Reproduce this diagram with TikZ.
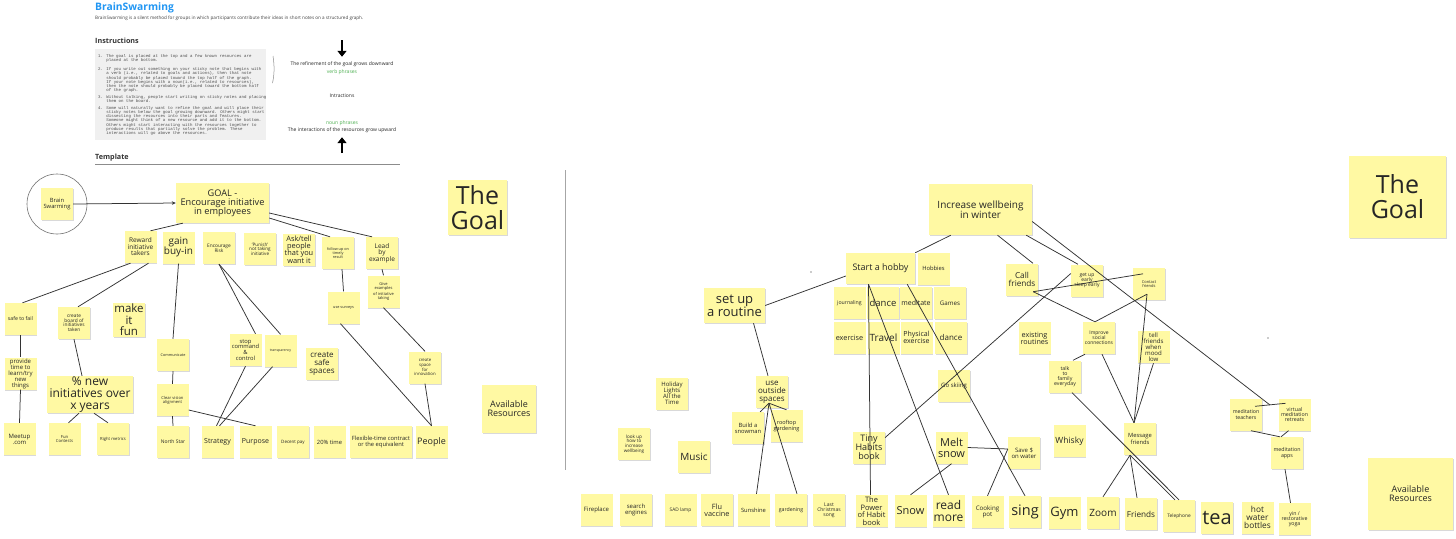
\documentclass[tikz,border=0pt]{standalone}
\usepackage{fontspec}
\setmainfont{Open Sans}
\newfontfamily\instrfont{Liberation Mono}
\usetikzlibrary{arrows.meta,shadows}
\definecolor{stickyfill}{HTML}{FFF9A3}
\definecolor{swarmblue}{HTML}{2196F3}
\definecolor{phrasegreen}{HTML}{4CAF50}
\newcommand\instrindent{\phantom{1. }}

\begin{document}
\begin{tikzpicture}[x=1pt, y=-1pt,
  sticky/.style={fill=stickyfill, minimum width=32pt, minimum height=32pt, inner sep=0.5pt, align=center, text=black!85,
    drop shadow={shadow xshift=0.8pt, shadow yshift=-1pt, fill=black, opacity=0.15}},
  fs/.style={font=\fontsize{#1}{#1}\selectfont},
  link/.style={line width=0.75pt, black!80},
  bigarrow/.style={line width=2pt, -{Triangle[width=9pt,length=6pt]}},
  hint/.style={fs=5, inner sep=0.5pt, text=black!85},
]

\fill[white] (0,0) rectangle (1456,538);
\useasboundingbox (0,0) rectangle (1456,538);

\node[anchor=west, inner sep=0, text=swarmblue, font=\fontsize{10.3}{10.3}\selectfont\bfseries] (title) at (95,8) {BrainSwarming};
\node[anchor=west, inner sep=0, fs=4.6, text=black!75] (subtitle) at (95,18) {BrainSwarming is a silent method for groups in which participants contribute their ideas in short notes on a structured graph.};
\node[anchor=west, inner sep=0, font=\fontsize{7.2}{7.2}\selectfont\bfseries, text=black!80] (instrhead) at (95,41) {Instructions};

\fill[black!6] (95,49) rectangle (266,140);
\node[anchor=north west, inner sep=0, align=left, text=black!70, font=\instrfont\fontsize{4.1}{4.1}\selectfont] (steps) at (98,54) {%
1. The goal is placed at the top and a few known resources are\\
\instrindent placed at the bottom.\\[5.5pt]
2. If you write out something on your sticky note that begins with\\
\instrindent a verb (i.e., related to goals and actions), then that note\\
\instrindent should probably be placed toward the top half of the graph.\\
\instrindent If your note begins with a noun(i.e., related to resources),\\
\instrindent then the note should probably be placed toward the bottom half\\
\instrindent of the graph.\\[3pt]
3. Without talking, people start writing on sticky notes and placing\\
\instrindent them on the board.\\[3pt]
4. Some will naturally want to refine the goal and will place their\\
\instrindent sticky notes below the goal growing downward. Others might start\\
\instrindent dissecting the resources into their parts and features.\\
\instrindent Someone might think of a new resource and add it to the bottom.\\
\instrindent Others might start interacting with the resources together to\\
\instrindent produce results that partially solve the problem. These\\
\instrindent interactions will go above the resources.};
\draw[black!45, line width=0.5pt] (273,56) .. controls (274.5,66) and (274.5,74) .. (272.5,83);

\node[hint] (refine) at (342,64) {The refinement of the goal grows downward};
\node[hint, text=phrasegreen] (verbs) at (342,72) {verb phrases};
\node[hint] (intract) at (342,96) {Intractions};
\node[hint, text=phrasegreen] (nouns) at (342,123) {noun phrases};
\node[hint] (interact) at (342,130) {The interactions of the resources grow upward};
\coordinate (downtop) at (342,40);
\coordinate (upbot) at (342,153);
\draw[bigarrow, shorten >=4pt] (downtop) -- (refine);
\draw[bigarrow, shorten >=4pt] (upbot) -- (interact);

\node[anchor=west, inner sep=0, font=\fontsize{7.2}{7.2}\selectfont\bfseries, text=black!80] (templhead) at (95,158) {Template};
\draw[black!45, line width=0.7pt] (95,164) -- (400,164);
\draw[black!35, line width=0.8pt] (565,170) -- (565,470);

% left board
\node[sticky, fs=5.8] (bsw) at (57,204) {Brain\\Swarming};
\draw[black!55, line width=0.6pt] (bsw.center) circle[radius=30pt];
\node[sticky, fs=9.2, minimum width=93pt, minimum height=40pt] (goal) at (222.5,203) {GOAL -\\Encourage initiative\\in employees};
\node[sticky, fs=6.5] (reward) at (140.5,247) {Reward\\initiative\\takers};
\node[sticky, fs=10] (buyin) at (178.5,247.5) {gain\\buy-in};
\node[sticky, fs=4.8] (risk) at (219,248) {Encourage\\Risk};
\node[sticky, fs=4.6] (punish) at (260,249) {'Punish'\\not taking\\initiative};
\node[sticky, fs=7.4] (asktell) at (299,249.5) {Ask/tell\\people\\that you\\want it};
\node[sticky, fs=3.8] (followup) at (338,253) {follow up on\\timely\\result};
\node[sticky, fs=6.5] (lead) at (382,253) {Lead\\by\\example};
\node[sticky, fs=4] (giveex) at (383.5,291.5) {Give\\examples\\of initiative\\taking};
\node[sticky, fs=3.8] (surveys) at (343.5,307.5) {use surveys};
\node[sticky, fs=5.2] (safefail) at (20.5,319) {safe to fail};
\node[sticky, fs=4.8] (board) at (74,323) {create\\board of\\initiatives\\taken};
\node[sticky, fs=11.5, minimum height=34pt] (makefun) at (129,320) {make\\it\\fun};
\node[sticky, fs=6] (learn) at (20.5,373.5) {provide\\time to\\learn/try\\new\\things};
\node[sticky, fs=12, minimum width=86pt, minimum height=37pt] (pnew) at (90,394.5) {\% new\\initiatives over\\x years};
\node[sticky, fs=6] (meetup) at (19.5,439) {Meetup\\.com};
\node[sticky, fs=4.2] (contests) at (64.5,439) {Fun\\Contests};
\node[sticky, fs=4.2] (metrics) at (113,439) {Right metrics};
\node[sticky, fs=3.8] (commun) at (173,355) {Communicate};
\node[sticky, fs=4.1] (vision) at (172.5,400) {Clear vision\\alignment};
\node[sticky, fs=5] (northstar) at (173,442) {North Star};
\node[sticky, fs=5.8] (stopcc) at (245.5,350) {stop\\command\\\&\\control};
\node[sticky, fs=3.5] (transp) at (280.5,350.5) {transparency};
\node[sticky, fs=8] (safesp) at (322,364) {create\\safe\\spaces};
\node[sticky, fs=4.3] (innov) at (425,367.5) {create\\space\\for\\innovation};
\node[sticky, fs=7] (strategy) at (217.5,442) {Strategy};
\node[sticky, fs=7] (purpose) at (255.5,442) {Purpose};
\node[sticky, fs=4.5] (pay) at (293,442) {Decent pay};
\node[sticky, fs=5.8] (time20) at (329.5,442) {20\% time};
\node[sticky, fs=5.8, minimum width=62pt] (flex) at (381,442) {Flexible-time contract\\or the equivalent};
\node[sticky, fs=9] (people) at (431.5,442) {People};
\node[sticky, fs=25, minimum width=59pt, minimum height=55pt] (goalL) at (477.5,207.5) {The\\Goal};
\node[sticky, fs=9, minimum width=54pt, minimum height=48pt] (resL) at (509,409) {Available\\Resources};

\draw[link, -{Stealth[length=4pt,width=3.5pt]}] (bsw.east) -- (goal.west);
\draw[link] ([xshift=7pt]goal.south west) -- ([xshift=10pt]reward.north);
\draw[link] ([yshift=-10pt]goal.east) -- ([xshift=-10pt]lead.north);
\draw[link] ([yshift=-15pt]goal.east) -- ([xshift=-8pt]followup.north);
\draw[link] ([xshift=-10pt]reward.south) -- ([xshift=2pt]safefail.north);
\draw[link] ([xshift=8pt]reward.south) -- ([xshift=4pt]board.north);
\draw[link] (buyin.south) -- (commun.north);
\draw[link] (risk.south) -- ([xshift=10pt]stopcc.north);
\draw[link] (risk.south) -- (transp.north);
\draw[link] ([xshift=4pt]followup.south) -- (surveys.north);
\draw[link] (lead.south) -- (giveex.north);
\draw[link] (giveex.south) -- (innov.north);
\draw[link] ([xshift=-3pt]surveys.south) -- (people.north);
\draw[link] (innov.south) -- (people.north);
\draw[link] (safefail.south) -- (learn.north);
\draw[link] (learn.south) -- (meetup.north);
\draw[link] (board.south) -- ([xshift=-8pt]pnew.north);
\draw[link] ([xshift=-11pt]pnew.south) -- ([xshift=4pt]contests.north);
\draw[link] ([xshift=4pt]pnew.south) -- ([xshift=-5pt]metrics.north);
\draw[link] (commun.south) -- (vision.north);
\draw[link] (vision.south) -- (northstar.north);
\draw[link] ([yshift=-10pt]vision.east) -- (purpose.north);
\draw[link] (stopcc.south) -- ([xshift=-1pt]strategy.north);
\draw[link] ([xshift=-8pt]transp.south) -- ([xshift=2pt]strategy.north);

% right board
\node[sticky, fs=13, minimum width=61pt, minimum height=35pt] (routine) at (734.5,305.5) {set up\\a routine};
\node[sticky, fs=9, minimum width=69pt, minimum height=31pt] (hobby) at (880.5,268.5) {Start a hobby};
\node[sticky, fs=5.8] (hobbies) at (933.5,268.5) {Hobbies};
\node[sticky, fs=5.2] (journal) at (849.5,303) {journaling};
\node[sticky, fs=9.5] (danceA) at (883,303) {dance};
\node[sticky, fs=7] (meditate) at (916,303) {meditate};
\node[sticky, fs=6.2] (games) at (950,303) {Games};
\node[sticky, fs=7.3] (exercise) at (849.5,337.5) {exercise};
\node[sticky, fs=10] (travel) at (883.5,337.5) {Travel};
\node[sticky, fs=7] (physical) at (916.5,337.5) {Physical\\exercise};
\node[sticky, fs=8] (danceB) at (951,337.5) {dance};
\node[sticky, fs=6] (skiing) at (954,386) {Go skiing};
\node[sticky, fs=9] (tinyhab) at (869,447.5) {Tiny\\Habits\\book};
\node[sticky, fs=11] (melt) at (951.5,447.5) {Melt\\snow};
\node[sticky, fs=7.5] (powerhab) at (871.5,511) {The\\Power\\of Habit\\book};
\node[sticky, fs=11] (snow) at (910.5,511) {Snow};
\node[sticky, fs=12] (readmore) at (948.5,511) {read\\more};
\node[sticky, fs=5] (xmas) at (829,510) {Last\\Christmas\\song};
\node[sticky, fs=5.2] (garden) at (791,510) {gardening};
\node[sticky, fs=5.8] (sunshine) at (753.5,510) {Sunshine};
\node[sticky, fs=7.3] (flu) at (717,510) {Flu\\vaccine};
\node[sticky, fs=4.8] (sadlamp) at (680.5,510) {SAD lamp};
\node[sticky, fs=6] (search) at (636,510) {search\\engines};
\node[sticky, fs=6] (fire) at (596.5,510) {Fireplace};
\node[sticky, fs=6] (lights) at (672,393.5) {Holiday\\Lights\\All the\\Time};
\node[sticky, fs=4.6] (lookup) at (634,444) {look up\\how to\\increase\\wellbeing};
\node[sticky, fs=10] (music) at (694,457) {Music};
\node[sticky, fs=8] (outside) at (772,392) {use\\outside\\spaces};
\node[sticky, fs=5.8] (snowman) at (748,428) {Build a\\snowman};
\node[sticky, fs=5.5] (rooftop) at (786.5,426) {rooftop\\gardening};
\node[sticky, fs=10, minimum width=103pt, minimum height=51pt] (winter) at (980.5,209.5) {Increase wellbeing\\in winter};
\node[sticky, fs=8.2] (callfr) at (1022,279.5) {Call\\friends};
\node[sticky, fs=5] (getup) at (1087,280.5) {get up\\early\\sleep early};
\node[sticky, fs=4] (contact) at (1149,284) {Contact\\friends};
\node[sticky, fs=7.2] (existing) at (1034.5,338) {existing\\routines};
\node[sticky, fs=5] (improve) at (1099,338) {Improve\\social\\connections};
\node[sticky, fs=6.1] (tellfr) at (1153.5,347) {tell\\friends\\when\\mood\\low};
\node[sticky, fs=5.2] (talkfam) at (1065,376.5) {talk\\to\\family\\everyday};
\node[sticky, fs=8.5] (whisky) at (1069.5,441) {Whisky};
\node[sticky, fs=5.8] (message) at (1140,439) {Message\\friends};
\node[sticky, fs=6] (savew) at (1024,453) {Save \$\\on water};
\node[sticky, fs=6.2] (cooking) at (987.5,512) {Cooking\\pot};
\node[sticky, fs=14.5] (sing) at (1025,512) {sing};
\node[sticky, fs=13] (gym) at (1064.5,513) {Gym};
\node[sticky, fs=10] (zoom) at (1103,513) {Zoom};
\node[sticky, fs=8.2] (friends) at (1141,514) {Friends};
\node[sticky, fs=4.8] (phone) at (1179,516) {Telephone};
\node[sticky, fs=20] (tea) at (1217,518) {tea};
\node[sticky, fs=8.3] (hotw) at (1257.5,517.5) {hot\\water\\bottles};
\node[sticky, fs=5.2] (yoga) at (1294.5,519) {yin /\\restorative\\yoga};
\node[sticky, fs=5.2] (medteach) at (1246,414.5) {meditation\\teachers};
\node[sticky, fs=5.3] (medretreat) at (1294.5,414.5) {virtual\\meditation\\retreats};
\node[sticky, fs=5.3] (medapps) at (1287,453) {meditation\\apps};
\node[sticky, fs=25, minimum width=97pt, minimum height=82pt] (goalR) at (1397.5,197) {The\\Goal};
\node[sticky, fs=9, minimum width=85pt, minimum height=72pt] (resR) at (1410.5,494) {Available\\Resources};

\fill[black!40] (811,272) circle[radius=0.8pt];
\fill[black!40] (1268,338) circle[radius=0.8pt];

\coordinate (medjoin) at (1270,405);
\coordinate (outpt) at ([xshift=-3pt,yshift=5pt]outside.south);
\coordinate (hobbypt) at ([xshift=-12pt]hobby.south);
\coordinate (callpt) at ([xshift=-5pt,yshift=4pt]callfr.south east);
\coordinate (contpt) at ([xshift=-2pt,yshift=6pt]contact.south);
\coordinate (msgpt) at ([xshift=-10pt]message.south);

\draw[link] ([xshift=22pt]winter.south west) -- (hobby.north east);
\draw[link] ([xshift=17pt]winter.south) -- ([xshift=11pt]callfr.north);
\draw[link] ([xshift=-6pt]winter.south east) -- ([xshift=-9pt]getup.north);
\draw[link] ([yshift=-12pt]winter.east) -- (medjoin);
\draw[link] ([xshift=9pt,yshift=-8pt]medteach.north) -- ([xshift=-9pt,yshift=-5pt]medretreat.north);
\draw[link] ([xshift=5pt]medteach.south) -- ([xshift=-7pt]medapps.north);
\draw[link] ([xshift=-6pt]medretreat.south) -- ([xshift=-6pt]medapps.north);
\draw[link] ([xshift=-2pt]medapps.south) -- ([xshift=-4pt]yoga.north);
\draw[link] ([yshift=-7.5pt]hobby.west) -- (routine.east);
\draw[link] ([xshift=19pt]routine.south) -- ([xshift=-4pt]outside.north);
\draw[link] (outpt) -- ([xshift=-4pt]snowman.north east);
\draw[link] (outpt) -- (rooftop.north);
\draw[link] (outpt) -- ([xshift=3pt]sunshine.north);
\draw[link] (outpt) -- ([xshift=6pt]garden.north);
\draw[link] (hobbypt) -- ([xshift=-1pt]powerhab.north);
\draw[link] (hobbypt) -- (readmore.north);
\draw[link] ([xshift=-8pt]hobby.south east) -- (sing.north);
\draw[link] ([yshift=10pt]tinyhab.east) -- ([yshift=7pt]getup.west);
\draw[link] (melt.east) -- ([yshift=4pt]savew.west);
\draw[link] ([yshift=4pt]savew.west) -- (cooking.north);
\draw[link] (melt.south) -- (snow.north);
\draw[link] (callpt) -- ([xshift=-6pt,yshift=-6pt]contact.north);
\draw[link] (callpt) -- ([xshift=-4pt]improve.north);
\draw[link] ([xshift=-4pt]improve.north) -- (contpt);
\draw[link] (contpt) -- ([xshift=-6pt]message.north);
\draw[link] (tellfr.south) -- ([xshift=-6pt]message.north);
\draw[link] ([xshift=3pt]improve.south) -- ([xshift=-6pt]message.north);
\draw[link] ([xshift=-14pt]improve.south) -- ([xshift=8pt]talkfam.north);
\draw[link] ([xshift=7pt]talkfam.south) -- (phone.north);
\draw[link] (msgpt) -- (zoom.north);
\draw[link] (msgpt) -- ([xshift=-4pt]friends.north);
\draw[link] (msgpt) -- ([xshift=-4pt]phone.north);

\end{tikzpicture}
\end{document}
